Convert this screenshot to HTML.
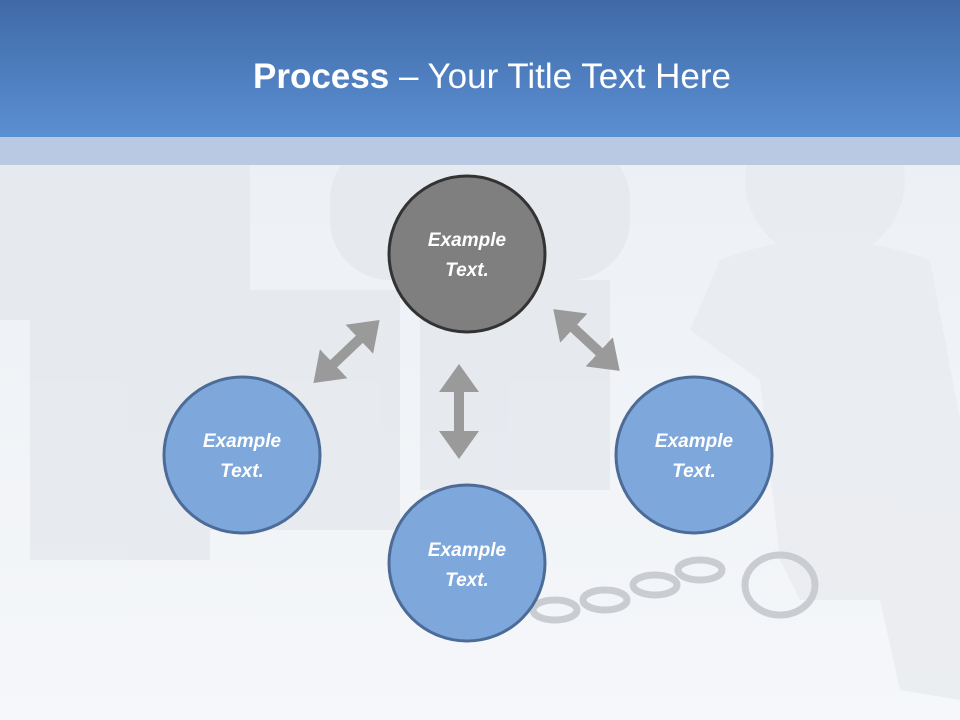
<!DOCTYPE html>
<html><head><meta charset="utf-8"><style>
html,body{margin:0;padding:0;width:960px;height:720px;overflow:hidden;background:#f3f6f9}
</style></head><body>
<svg width="960" height="720" viewBox="0 0 960 720" xmlns="http://www.w3.org/2000/svg" style="display:block">
<defs>
<linearGradient id="hdr" x1="0" y1="0" x2="0" y2="1">
<stop offset="0" stop-color="#3f6aa6"/><stop offset="1" stop-color="#5b8fd3"/>
</linearGradient>
<linearGradient id="bg" x1="0" y1="0" x2="0" y2="1">
<stop offset="0" stop-color="#eaeef3"/><stop offset="1" stop-color="#f5f7fa"/>
</linearGradient>
<marker id="ah" viewBox="0 0 7 10" refX="3" refY="5" markerWidth="2.8" markerHeight="4" orient="auto-start-reverse">
<path d="M0,0 L7,5 L0,10 z" fill="#9a9a9a"/></marker>
</defs>
<rect width="960" height="720" fill="url(#bg)"/>
<g fill="#e3e7ec" opacity="0.7">
<rect x="30" y="300" width="180" height="260"/>
<rect x="200" y="290" width="200" height="240"/>
<rect x="420" y="280" width="190" height="210"/>
<rect x="0" y="150" width="250" height="170"/>
<rect x="330" y="140" width="300" height="140" rx="60"/>
</g>
<g fill="#e8ebef" opacity="0.8">
<circle cx="825" cy="180" r="80"/>
<path d="M720 260 Q820 220 930 260 L960 420 L960 700 L900 690 L880 600 L800 600 L780 560 L760 380 L690 330 Z"/>
</g>
<g fill="none" stroke="#c9cdd2" stroke-width="7">
<ellipse cx="555" cy="610" rx="22" ry="10"/>
<ellipse cx="605" cy="600" rx="22" ry="10"/>
<ellipse cx="655" cy="585" rx="22" ry="10"/>
<ellipse cx="700" cy="570" rx="22" ry="10"/>
<ellipse cx="780" cy="585" rx="35" ry="30"/>
</g>
<rect x="0" y="0" width="960" height="137" fill="url(#hdr)"/>
<rect x="0" y="137" width="960" height="28" fill="#b9c9e3"/>
<text x="492" y="88" text-anchor="middle" font-family="'Liberation Sans',sans-serif" font-size="35" fill="#fff"><tspan font-weight="bold">Process</tspan> – Your Title Text Here</text>
<g stroke="#9a9a9a" stroke-width="10" marker-start="url(#ah)" marker-end="url(#ah)">
<line x1="325" y1="372" x2="368" y2="331"/>
<line x1="459" y1="380" x2="459" y2="443"/>
<line x1="565" y1="320" x2="608" y2="360"/>
</g>
<g stroke-width="3" font-family="'Liberation Sans',sans-serif" font-size="19" font-weight="bold" font-style="italic" fill="#fff" text-anchor="middle">
<circle cx="467" cy="254" r="78" fill="#7f7f7f" stroke="#333"/>
<circle cx="242" cy="455" r="78" fill="#7ea7dc" stroke="#4c6c97"/>
<circle cx="694" cy="455" r="78" fill="#7ea7dc" stroke="#4c6c97"/>
<circle cx="467" cy="563" r="78" fill="#7ea7dc" stroke="#4c6c97"/>
<g stroke="none">
<text x="467" y="246">Example</text><text x="467" y="276">Text.</text>
<text x="242" y="447">Example</text><text x="242" y="477">Text.</text>
<text x="694" y="447">Example</text><text x="694" y="477">Text.</text>
<text x="467" y="556">Example</text><text x="467" y="586">Text.</text>
</g>
</g>
</svg>
</body></html>
